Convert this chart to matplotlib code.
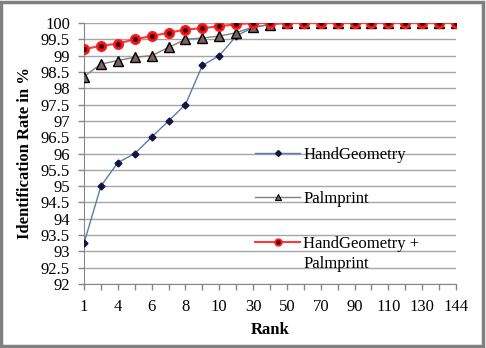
import matplotlib
matplotlib.use("Agg")
import matplotlib.pyplot as plt
from matplotlib.patches import Rectangle
from matplotlib.lines import Line2D

plt.rcParams['font.family'] = ['Liberation Serif', 'DejaVu Serif']

ranks = [1, 2, 4, 5, 6, 7, 8, 9, 10, 20, 30, 40, 50, 60, 70, 80, 90, 100,
         110, 120, 130, 140, 144]
hand_geometry = [93.25, 95.0, 95.72, 96.0, 96.5, 97.0, 97.5, 98.7, 99.0, 99.6,
                 99.87, 99.95, 100, 100, 100, 100, 100, 100, 100, 100, 100, 100, 100]
palmprint = [98.36, 98.74, 98.85, 98.95, 99.0, 99.25, 99.5, 99.54, 99.6, 99.7,
             99.88, 99.95, 100, 100, 100, 100, 100, 100, 100, 100, 100, 100, 100]
fusion = [99.2, 99.3, 99.37, 99.5, 99.6, 99.7, 99.8, 99.84, 99.9, 99.96,
          100, 100, 100, 100, 100, 100, 100, 100, 100, 100, 100, 100, 100]
yticks = [92, 92.5, 93, 93.5, 94, 94.5, 95, 95.5, 96, 96.5, 97, 97.5, 98,
          98.5, 99, 99.5, 100]
labels = ['HandGeometry', 'Palmprint', 'HandGeometry +', 'Palmprint']

W, H = 486, 348
fig = plt.figure(figsize=(W / 100, H / 100), dpi=100)
ax = fig.add_axes([84 / W, 1 - 284 / H, (456 - 84) / W, (284 - 23) / H])

hg_style = dict(color='#5d7bb0', lw=1.0, marker='D', mfc='#141440', mec='#141440')
pp_style = dict(color='#808080', lw=1.0, marker='^', mfc='#7a6262', mec='#000000',
                mew=1.0)
fu_style = dict(color='#ff3b3b', lw=1.5, marker='o', mfc='#ee1010', mec='#ff2020')
dot_style = dict(ls='none', marker='o', mfc='#300000', mec='#300000')

x = list(range(len(ranks)))
ax.plot(x, hand_geometry, ms=3.5, zorder=3, **hg_style)
ax.plot(x, palmprint, ms=6.5, zorder=4, **pp_style)
ax.plot(x, fusion, ms=7, zorder=5, **fu_style)
ax.plot(x, fusion, ms=2.5, zorder=6, **dot_style)

ax.set_xlim(0, len(ranks) - 1)
ax.set_ylim(92, 100)
ax.set_yticks(yticks)
ax.set_yticklabels([f'{v:g}' for v in yticks], fontsize=12)
ax.set_xticks(x)
ax.set_xticklabels([str(r) if i % 2 == 0 else '' for i, r in enumerate(ranks)],
                   fontsize=12)
ax.grid(axis='y', color='#a6a6a6', lw=1.0)
ax.set_axisbelow(True)
for s in ['top', 'right']:
    ax.spines[s].set_visible(False)
for s in ['left', 'bottom']:
    ax.spines[s].set_color('#868686')
ax.tick_params(axis='both', colors='#868686', labelcolor='black', length=4,
               width=1.0)
ax.tick_params(axis='x', pad=7)
ax.tick_params(axis='y', pad=6)

ax.set_ylabel('Identification Rate in %', fontsize=12, fontweight='bold',
              labelpad=6)
ax.set_xlabel('Rank', fontsize=12, fontweight='bold', labelpad=5)

h1 = Line2D([], [], ms=3, **hg_style)
h2 = Line2D([], [], ms=4.5, **{**pp_style, 'mew': 0.8})
h3 = Line2D([], [], ms=5, **fu_style)
h3d = Line2D([], [], ms=2, **dot_style)

leg = ax.legend([h1, h2, (h3, h3d)], labels[:3], loc='upper left',
                bbox_to_anchor=(255 / W, 1 - 147 / H),
                bbox_transform=fig.transFigure, frameon=False, fontsize=12,
                handlelength=2.7, handletextpad=0.2, labelspacing=1.7,
                borderpad=0, borderaxespad=0)

fig.canvas.draw()
r = fig.canvas.get_renderer()
bb = leg.get_texts()[2].get_window_extent(r)
fig.text(bb.x0 / W, (bb.y0 - 20) / H, labels[3], fontsize=12,
         ha='left', va='bottom')

fig.patches.append(Rectangle((0.003, 0.005), 0.99, 0.99, transform=fig.transFigure,
                             fill=False, ec='#808080', lw=2.5))

fig.savefig('out.png', dpi=100)
